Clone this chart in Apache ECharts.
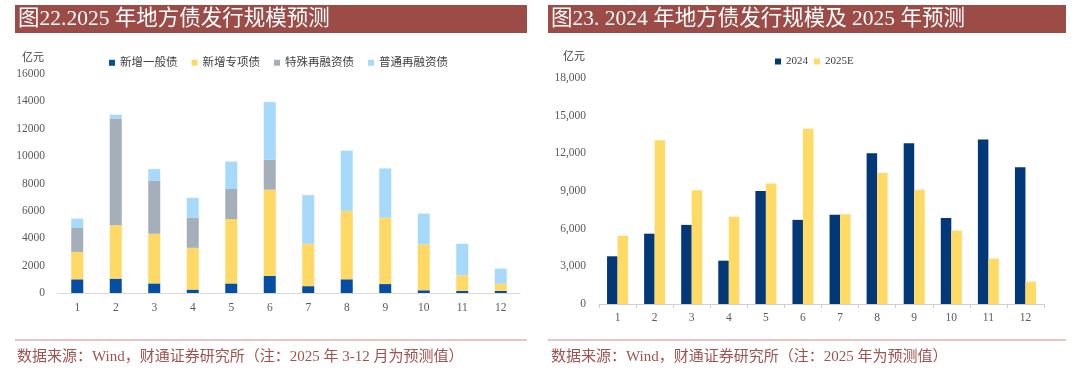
<!DOCTYPE html>
<html>
<head>
<meta charset="utf-8">
<script src="https://cdn.jsdelivr.net/npm/echarts@6/dist/echarts.min.js"></script>
<style>
html,body{margin:0;padding:0;background:#fff;}
#c{width:1080px;height:379px;}
</style>
</head>
<body>
<div id="c"></div>
<script>
// ---- data ----
const months = ['1','2','3','4','5','6','7','8','9','10','11','12'];
const leftSeriesNames = ['新增一般债','新增专项债','特殊再融资债','普通再融资债'];
const newGeneral   = [1000,1050,700,250,700,1250,500,1000,650,200,150,150];
const newSpecial   = [2000,3900,3630,3050,4700,6300,3100,5000,4850,3350,1150,530];
const specialRefi  = [1750,7800,3850,2200,2200,2200,0,0,0,0,0,0];
const normalRefi   = [680,280,870,1450,2000,4200,3550,4400,3600,2250,2300,1100];
const rightSeriesNames = ['2024','2025E'];
const issue2024    = [3800,5600,6300,3450,9000,6700,7100,12000,12800,6850,13100,10900];
const forecast2025 = [5430,13050,9050,6950,9600,13950,7150,10430,9100,5850,3620,1780];
const leftTicks = {min:0, max:16000, interval:2000};
const rightTicks = {min:0, max:18000, interval:3000};

const serif = "'Liberation Serif','Noto Sans CJK SC',serif";
const titleColor = '#9C4B46';
const footColor = '#A0524E';
const lineColor = '#C98F8B';

const chart = echarts.init(document.getElementById('c'), null, {renderer:'canvas'});

const fmtPlain = v => String(v);
const fmtComma = v => String(v).replace(/\B(?=(\d{3})+(?!\d))/g, ',');

const axisLabelStyle = {color:'#595959', fontFamily:serif, fontSize:11.5};

chart.setOption({
  animation:false,
  backgroundColor:'#fff',
  graphic:[
    {type:'rect', shape:{x:15,y:5,width:512,height:28}, style:{fill:titleColor}},
    {type:'rect', shape:{x:548,y:5,width:518,height:28}, style:{fill:titleColor}},
    {type:'text', x:18, y:19, style:{text:'图22.2025 年地方债发行规模预测', fill:'#fff', fontSize:21.5, fontFamily:serif, verticalAlign:'middle'}},
    {type:'text', x:551, y:19, style:{text:'图23. 2024 年地方债发行规模及 2025 年预测', fill:'#fff', fontSize:21.5, fontFamily:serif, verticalAlign:'middle'}},
    {type:'text', x:22, y:58, style:{text:'亿元', fill:'#404040', fontSize:11, fontFamily:serif, verticalAlign:'middle'}},
    {type:'text', x:563, y:57, style:{text:'亿元', fill:'#404040', fontSize:11, fontFamily:serif, verticalAlign:'middle'}},
    {type:'line', shape:{x1:15,y1:340,x2:527,y2:340}, style:{stroke:lineColor, lineWidth:1}},
    {type:'line', shape:{x1:548,y1:340,x2:1066,y2:340}, style:{stroke:lineColor, lineWidth:1}},
    {type:'text', x:17, y:357, style:{text:'数据来源：Wind，财通证券研究所（注：2025 年 3-12 月为预测值）', fill:footColor, fontSize:15, fontFamily:serif, verticalAlign:'middle'}},
    {type:'text', x:551, y:357, style:{text:'数据来源：Wind，财通证券研究所（注：2025 年为预测值）', fill:footColor, fontSize:15, fontFamily:serif, verticalAlign:'middle'}}
  ],
  legend:[
    {data:leftSeriesNames, left:104, top:52, itemWidth:6, itemHeight:6, itemGap:14, icon:'rect',
     textStyle:{fontSize:11.5, fontFamily:serif, color:'#404040'}},
    {data:rightSeriesNames, left:770, top:51, itemWidth:6, itemHeight:6, itemGap:6, icon:'rect',
     textStyle:{fontSize:11, fontFamily:serif, color:'#404040'}}
  ],
  grid:[
    {left:58, top:74, width:462, height:219},
    {left:599, top:78, width:445, height:226}
  ],
  xAxis:[
    {type:'category', gridIndex:0, data:months,
     axisLine:{lineStyle:{color:'#D9D9D9', width:1}}, axisTick:{show:false},
     axisLabel:Object.assign({margin:9}, axisLabelStyle)},
    {type:'category', gridIndex:1, data:months,
     axisLine:{lineStyle:{color:'#D0D0D0', width:1}}, axisTick:{show:true, length:4, lineStyle:{color:'#D0D0D0'}},
     axisLabel:Object.assign({margin:8}, axisLabelStyle)}
  ],
  yAxis:[
    {type:'value', gridIndex:0, min:leftTicks.min, max:leftTicks.max, interval:leftTicks.interval,
     splitLine:{show:false}, axisLine:{show:false}, axisTick:{show:false},
     axisLabel:Object.assign({margin:13, formatter:fmtPlain}, axisLabelStyle)},
    {type:'value', gridIndex:1, min:rightTicks.min, max:rightTicks.max, interval:rightTicks.interval,
     splitLine:{show:false}, axisLine:{show:false}, axisTick:{show:false},
     axisLabel:Object.assign({margin:13, formatter:fmtComma}, axisLabelStyle)}
  ],
  series:[
    {name:leftSeriesNames[0], type:'bar', stack:'a', xAxisIndex:0, yAxisIndex:0, barWidth:12, data:newGeneral, itemStyle:{color:'#064EA3'}},
    {name:leftSeriesNames[1], type:'bar', stack:'a', xAxisIndex:0, yAxisIndex:0, barWidth:12, data:newSpecial, itemStyle:{color:'#FFD966'}},
    {name:leftSeriesNames[2], type:'bar', stack:'a', xAxisIndex:0, yAxisIndex:0, barWidth:12, data:specialRefi, itemStyle:{color:'#A5AFBA'}},
    {name:leftSeriesNames[3], type:'bar', stack:'a', xAxisIndex:0, yAxisIndex:0, barWidth:12, data:normalRefi, itemStyle:{color:'#A7D9FB'}},
    {name:rightSeriesNames[0], type:'bar', xAxisIndex:1, yAxisIndex:1, barWidth:10.5, barGap:'0%', data:issue2024, itemStyle:{color:'#023778'}},
    {name:rightSeriesNames[1], type:'bar', xAxisIndex:1, yAxisIndex:1, barWidth:10.5, barGap:'0%', data:forecast2025, itemStyle:{color:'#FFDB66'}}
  ]
});
</script>
</body>
</html>
